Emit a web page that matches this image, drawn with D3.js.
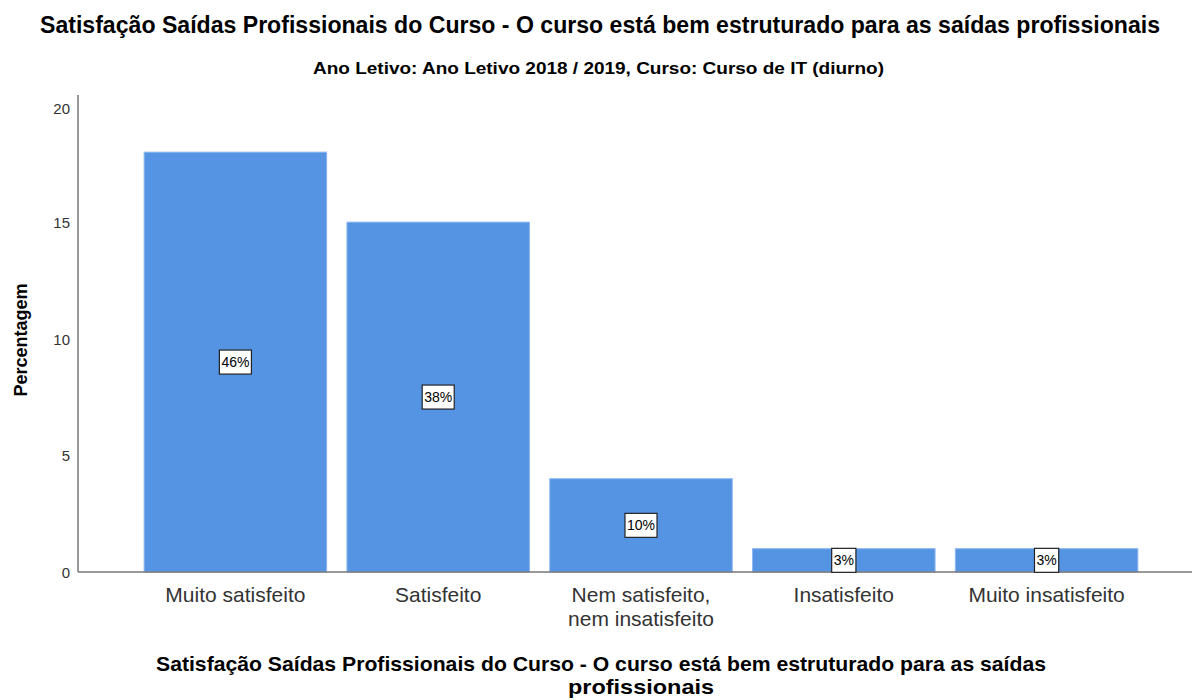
<!DOCTYPE html>
<html>
<head>
<meta charset="utf-8">
<script src="https://cdn.jsdelivr.net/npm/d3@7"></script>
<style>
  body { margin: 0; background: #fff; }
  text { font-family: "Liberation Sans", Arial, sans-serif; }
</style>
</head>
<body>
<div id="chart"></div>
<script>
var w = 1204;
var h = 700;

var categories = [
  ["Muito satisfeito"],
  ["Satisfeito"],
  ["Nem satisfeito,", "nem insatisfeito"],
  ["Insatisfeito"],
  ["Muito insatisfeito"]
];
var values = [18, 15, 4, 1, 1];
var pctLabels = ["46%", "38%", "10%", "3%", "3%"];
var yTicks = [0, 5, 10, 15, 20];

var svg = d3
  .select("#chart")
  .append("svg")
  .attr("width", w)
  .attr("height", h);

// scales
const xScale = d3
  .scaleBand()
  .domain(d3.range(values.length))
  .range([134, 1148])
  .paddingInner(0.1)
  .paddingOuter(0.05);

const yScale = d3
  .scaleLinear()
  .domain([0, 20])
  .range([572, 105.5]);

// titles
svg.append("text")
  .attr("x", 600)
  .attr("y", 33)
  .attr("text-anchor", "middle")
  .attr("font-size", 23)
  .attr("font-weight", "bold")
  .attr("fill", "#000")
  .attr("textLength", 1120)
  .attr("lengthAdjust", "spacingAndGlyphs")
  .text("Satisfação Saídas Profissionais do Curso - O curso está bem estruturado para as saídas profissionais");

// subtitle is a condensed face in the original, squeeze it
svg.append("text")
  .attr("x", 598.5)
  .attr("y", 74)
  .attr("text-anchor", "middle")
  .attr("font-size", 17)
  .attr("font-weight", "bold")
  .attr("fill", "#000")
  .attr("textLength", 571)
  .attr("lengthAdjust", "spacingAndGlyphs")
  .text("Ano Letivo: Ano Letivo 2018 / 2019, Curso: Curso de IT (diurno)");

// y axis
svg.append("line")
  .attr("x1", 78).attr("x2", 78)
  .attr("y1", 95).attr("y2", 572)
  .attr("stroke", "#777")
  .attr("stroke-width", 1.5);

svg.selectAll(".ytick")
  .data(yTicks)
  .enter()
  .append("text")
  .attr("class", "ytick")
  .attr("x", 70)
  .attr("y", function (d) { return yScale(d) + (d === 20 ? 8 : 6); })
  .attr("text-anchor", "end")
  .attr("font-size", 15)
  .attr("fill", "#333")
  .text(function (d) { return d; });

svg.append("text")
  .attr("transform", "translate(27,340) rotate(-90)")
  .attr("text-anchor", "middle")
  .attr("font-size", 18)
  .attr("font-weight", "bold")
  .attr("fill", "#000")
  .text("Percentagem");

// bars
svg.selectAll("rect.bar")
  .data(values)
  .enter()
  .append("rect")
  .attr("class", "bar")
  .attr("x", function (d, i) { return xScale(i); })
  .attr("y", function (d) { return yScale(d); })
  .attr("width", xScale.bandwidth())
  .attr("height", function (d) { return yScale(0) - yScale(d); })
  .attr("fill", "#5594e3")
  .attr("stroke", "#8db8ee")
  .attr("stroke-width", 1);

// x axis baseline
svg.append("line")
  .attr("x1", 78).attr("x2", 1192)
  .attr("y1", 572).attr("y2", 572)
  .attr("stroke", "#777")
  .attr("stroke-width", 1.5);

// value labels
var lbl = svg.selectAll("g.lbl")
  .data(values)
  .enter()
  .append("g")
  .attr("class", "lbl")
  .attr("transform", function (d, i) {
    return "translate(" + (xScale(i) + xScale.bandwidth() / 2) + "," + yScale(d / 2) + ")";
  });

lbl.append("text")
  .attr("text-anchor", "middle")
  .attr("y", 5)
  .attr("font-size", 14)
  .attr("fill", "#000")
  .text(function (d, i) { return pctLabels[i]; })
  .each(function () {
    var bb = this.getBBox();
    d3.select(this.parentNode).insert("rect", "text")
      .attr("x", bb.x - 2)
      .attr("y", -12)
      .attr("width", bb.width + 4)
      .attr("height", 24)
      .attr("fill", "#fff")
      .attr("stroke", "#222")
      .attr("stroke-width", 1.2);
  });

// category labels
svg.selectAll("text.xlab")
  .data(categories)
  .enter()
  .append("text")
  .attr("class", "xlab")
  .attr("text-anchor", "middle")
  .attr("font-size", 21)
  .attr("fill", "#333")
  .attr("x", function (d, i) { return xScale(i) + xScale.bandwidth() / 2; })
  .attr("y", 602)
  .selectAll("tspan")
  .data(function (d) { return d; })
  .enter()
  .append("tspan")
  .attr("x", function () { return d3.select(this.parentNode).attr("x"); })
  .attr("dy", function (d, i) { return i === 0 ? 0 : 24; })
  .text(function (d) { return d; });

// x axis title (condensed in the original)
svg.append("text")
  .attr("x", 601)
  .attr("y", 671)
  .attr("text-anchor", "middle")
  .attr("font-size", 21)
  .attr("font-weight", "bold")
  .attr("fill", "#000")
  .attr("textLength", 890)
  .attr("lengthAdjust", "spacingAndGlyphs")
  .text("Satisfação Saídas Profissionais do Curso - O curso está bem estruturado para as saídas");
svg.append("text")
  .attr("x", 641)
  .attr("y", 694)
  .attr("text-anchor", "middle")
  .attr("font-size", 21)
  .attr("font-weight", "bold")
  .attr("fill", "#000")
  .attr("textLength", 146)
  .attr("lengthAdjust", "spacingAndGlyphs")
  .text("profissionais");
</script>
</body>
</html>
